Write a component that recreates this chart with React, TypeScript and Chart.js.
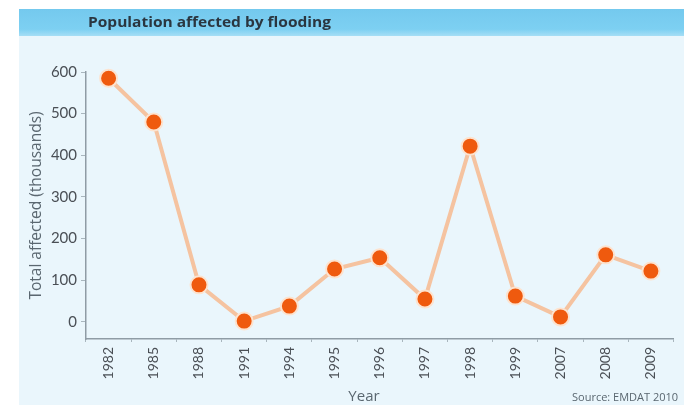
import React, { useEffect, useRef } from "react";
import { Chart, registerables } from "chart.js";

Chart.register(...registerables);

const years = ["1982", "1985", "1988", "1991", "1994", "1995", "1996", "1997", "1998", "1999", "2007", "2008", "2009"];
const affected = [585, 480, 89, 2, 38, 127, 154, 55, 422, 62, 12, 161, 122];
const yTicks = [0, 100, 200, 300, 400, 500, 600];
const titleText = "Population affected by flooding";
const sourceText = "Source: EMDAT 2010";
const yTitle = "Total affected (thousands)";
const xTitle = "Year";

const FONT = "Lato, 'Open Sans', sans-serif";
const FONT2 = "'Open Sans', sans-serif";

const panelPlugin = {
  id: "panel",
  beforeDraw(chart: any) {
    const ctx = chart.ctx;
    const w = chart.width;
    const h = chart.height;
    ctx.save();
    ctx.fillStyle = "#ffffff";
    ctx.fillRect(0, 0, w, h);
    ctx.fillStyle = "#eaf6fc";
    ctx.fillRect(19, 36, w - 19, h - 36);
    const g = ctx.createLinearGradient(0, 9, 0, 36);
    g.addColorStop(0, "#74c9ee");
    g.addColorStop(0.75, "#7dd0f2");
    g.addColorStop(1, "#a6def5");
    ctx.fillStyle = g;
    ctx.fillRect(19, 9, w - 19, 27);
    ctx.fillStyle = "#2a3640";
    ctx.font = "bold 14px " + FONT2;
    ctx.textBaseline = "middle";
    ctx.textAlign = "left";
    const tw = ctx.measureText(titleText).width;
    ctx.save();
    ctx.translate(88, 23);
    ctx.scale(243 / tw, 1);
    ctx.fillText(titleText, 0, 0);
    ctx.restore();
    ctx.fillStyle = "#5a6770";
    ctx.font = "11px " + FONT2;
    ctx.fillText(sourceText, 572, 398);
    ctx.fillStyle = "#5a6770";
    ctx.font = "15px " + FONT2;
    ctx.textAlign = "center";
    ctx.fillText(xTitle, 364, 397);
    ctx.restore();
  },
};

export default function App() {
  const ref = useRef<HTMLCanvasElement>(null);
  useEffect(() => {
    document.body.style.margin = "0";
    const chart = new Chart(ref.current!, {
      type: "line",
      data: {
        labels: years,
        datasets: [
          {
            data: affected,
            borderColor: "#f5c3a0",
            borderWidth: 4,
            pointBackgroundColor: "#ef5a0e",
            pointBorderColor: "#fde3cf",
            pointBorderWidth: 2,
            pointRadius: 8.5,
            tension: 0,
            clip: false as any,
          },
        ],
      },
      options: {
        animation: false,
        responsive: false,
        layout: { padding: { top: 72, left: 19, right: 9, bottom: 0 } },
        plugins: { legend: { display: false }, tooltip: { enabled: false } },
        scales: {
          x: {
            offset: true,
            grid: { display: true, drawOnChartArea: false, drawTicks: true, tickLength: 3, color: "#a9b6be", offset: true },
            border: { display: true, color: "#8f9ca5", width: 1.5 },
            ticks: {
              minRotation: 90,
              maxRotation: 90,
              color: "#4a4f55",
              font: { family: FONT, size: 14 },
              padding: 5,
            },
            afterFit: (s: any) => {
              s.height = 66;
            },
          },
          y: {
            min: -41,
            max: 600,
            afterBuildTicks: (s: any) => {
              s.ticks = yTicks.map((v) => ({ value: v }));
            },
            grid: { display: true, drawOnChartArea: false, drawTicks: true, tickLength: 5, color: "#a9b6be" },
            border: { display: true, color: "#8f9ca5", width: 1.5 },
            ticks: {
              color: "#4a4f55",
              font: { family: FONT, size: 15 },
              padding: 4,
            },
            title: {
              display: true,
              text: yTitle,
              color: "#5a6770",
              font: { family: FONT2, size: 15.5 },
              padding: { top: 8, bottom: 4 },
            },
            afterFit: (s: any) => {
              s.width = 67;
            },
          },
        },
      },
      plugins: [panelPlugin],
    });
    return () => chart.destroy();
  }, []);
  return (
    <div style={{ width: 684, height: 405 }}>
      <canvas ref={ref} width={684} height={405} style={{ display: "block" }} />
    </div>
  );
}
